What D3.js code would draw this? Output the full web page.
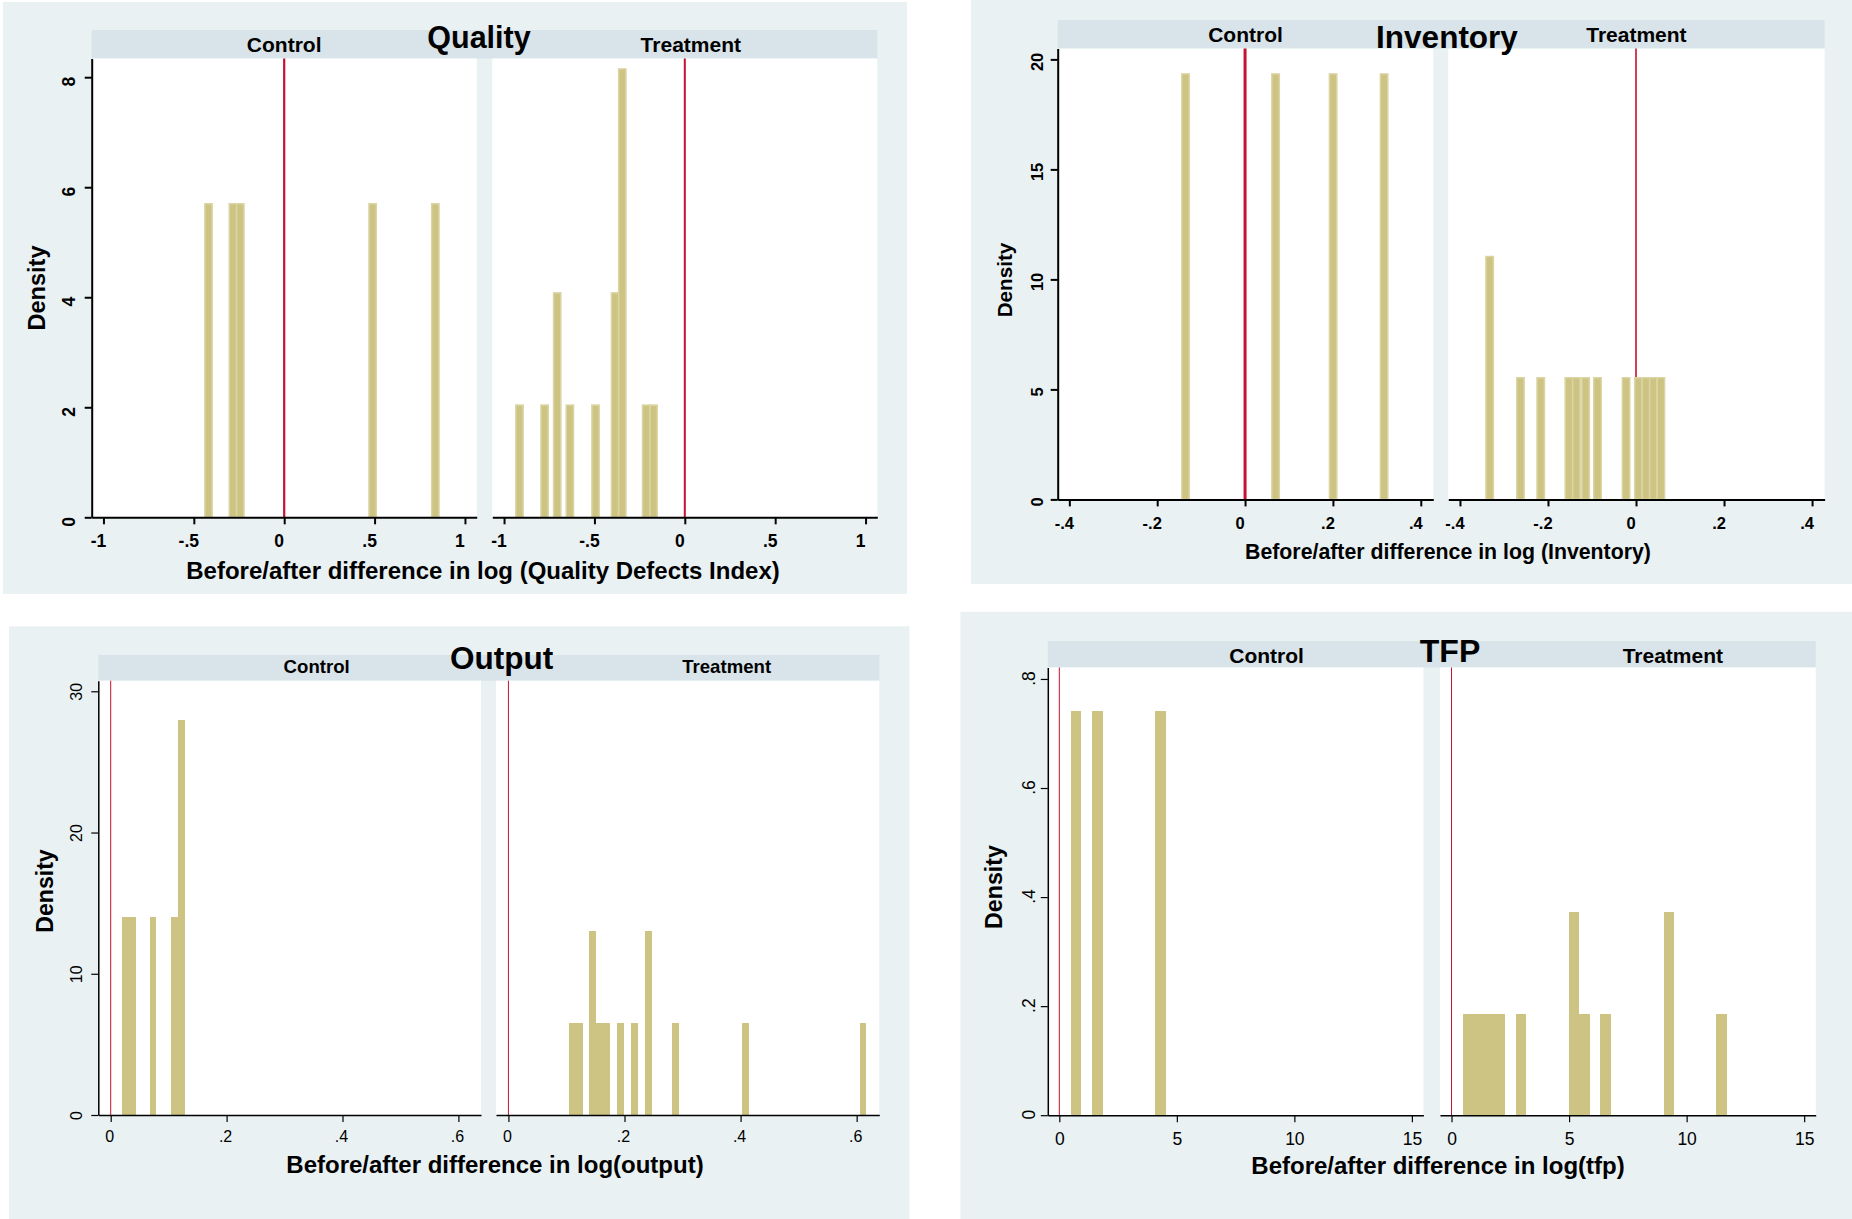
<!DOCTYPE html>
<html>
<head>
<meta charset="utf-8">
<script src="https://cdn.jsdelivr.net/npm/d3@7"></script>
<style>
  html, body { margin: 0; padding: 0; background: #fff; }
  svg { display: block; }
</style>
</head>
<body>
<svg id="chart" width="1852" height="1219"></svg>
<script>
// values (bin left edges + densities per group)

// Quality defects index
const qualityBinWidth = 0.0405;
const qualityControlBins = [-0.439, -0.304, -0.263, 0.469, 0.816];
const qualityControlDensity = [5.7, 5.7, 5.7, 5.7, 5.7];
const qualityTreatBins = [-0.935, -0.796, -0.726, -0.656, -0.514, -0.406, -0.366, -0.234, -0.193];
const qualityTreatDensity = [2.04, 2.04, 4.08, 2.04, 2.04, 4.08, 8.15, 2.04, 2.04];
const qualityXTicks = [-1, -0.5, 0, 0.5, 1];
const qualityXLabels = ["-1", "-.5", "0", ".5", "1"];
const qualityYTicks = [0, 2, 4, 6, 8];
const qualityYLabels = ["0", "2", "4", "6", "8"];

// Inventory
const inventoryBinWidth = 0.017;
const inventoryControlBins = [-0.144, 0.061, 0.192, 0.308];
const inventoryControlDensity = [19.34, 19.34, 19.34, 19.34];
const inventoryTreatBins = [-0.341, -0.271, -0.225, -0.161, -0.144, -0.123, -0.096, -0.031, -0.003, 0.014, 0.031, 0.048];
const inventoryTreatDensity = [11.04, 5.53, 5.53, 5.53, 5.53, 5.53, 5.53, 5.53, 5.53, 5.53, 5.53, 5.53];
const inventoryXTicks = [-0.4, -0.2, 0, 0.2, 0.4];
const inventoryXLabels = ["-.4", "-.2", "0", ".2", ".4"];
const inventoryYTicks = [0, 5, 10, 15, 20];
const inventoryYLabels = ["0", "5", "10", "15", "20"];

// Output
const outputBinWidth = 0.0119;
const outputControlBins = [0.020, 0.0319, 0.067, 0.104, 0.1159];
const outputControlDensity = [14, 14, 14, 14, 28];
const outputTreatBins = [0.1047, 0.1166, 0.139, 0.1509, 0.1628, 0.1875, 0.2117, 0.2359, 0.2824, 0.4027, 0.605];
const outputTreatDensity = [6.5, 6.5, 13, 6.5, 6.5, 6.5, 6.5, 13, 6.5, 6.5, 6.5];
const outputXTicks = [0, 0.2, 0.4, 0.6];
const outputXLabels = ["0", ".2", ".4", ".6"];
const outputYTicks = [0, 10, 20, 30];
const outputYLabels = ["0", "10", "20", "30"];

// TFP
const tfpBinWidth = 0.449;
const tfpControlBins = [0.49, 1.39, 4.08];
const tfpControlDensity = [0.742, 0.742, 0.742];
const tfpTreatBins = [0.49, 0.94, 1.39, 1.84, 2.74, 4.98, 5.43, 6.33, 9.02, 11.27];
const tfpTreatDensity = [0.186, 0.186, 0.186, 0.186, 0.186, 0.372, 0.186, 0.186, 0.372, 0.186];
const tfpXTicks = [0, 5, 10, 15];
const tfpXLabels = ["0", "5", "10", "15"];
const tfpYTicks = [0, 0.2, 0.4, 0.6, 0.8];
const tfpYLabels = ["0", ".2", ".4", ".6", ".8"];

const groups = ["Control", "Treatment"];

const FONT = '"Liberation Sans", Arial, Helvetica, sans-serif';
const BG = "#e9f1f3";
const STRIP = "#d8e4e9";
const BAR = "#cdc382";
const BAR_EDGE = "#dbd5a6";
const RED = "#c4122f";

const svg = d3.select("#chart");

// layout of the four graphs (Stata-style by() histograms)
const panels = [
  {
    title: "Quality", titleX: 479, titleY: 48, titleSize: 30.5,
    xTitle: "Before/after difference in log (Quality Defects Index)", xTitleX: 483, xTitleY: 578.6, xTitleSize: 24,
    yTitleX: 45, yTitleY: 288, yTitleSize: 23.5,
    bg: [3, 2, 907, 594], stripTop: 30, top: 58.5, bottom: 517.3,
    plots: [[91.7, 476.7], [492.3, 877.3]],
    stripY: 51.7, stripSize: 21, stripDx: [0, 6],
    xDomain: [-1.065, 1.065], yDomain: [0, 8.34],
    binWidth: qualityBinWidth,
    bins: [qualityControlBins, qualityTreatBins], dens: [qualityControlDensity, qualityTreatDensity],
    xTicks: qualityXTicks, xLabels: qualityXLabels, yTicks: qualityYTicks, yLabels: qualityYLabels,
    tickSize: 17.5, tickWeight: "bold", xLabelY: 546.7, xLabelDx: -5.5, yLabelX: 75, yLabelDy: 4,
    axisW: 2, tickW: 2, redW: [2.2, 2], edge: true
  },
  {
    title: "Inventory", titleX: 1447, titleY: 48, titleSize: 31.5,
    xTitle: "Before/after difference in log (Inventory)", xTitleX: 1448, xTitleY: 558.7, xTitleSize: 21.3,
    yTitleX: 1011.6, yTitleY: 280, yTitleSize: 20.7,
    bg: [971, 0, 1852, 584], stripTop: 19.9, top: 48.6, bottom: 499.4,
    plots: [[1057.7, 1433.3], [1448.3, 1824.6]],
    stripY: 42.1, stripSize: 21, stripDx: [0, 0],
    xDomain: [-0.4265, 0.4285], yDomain: [0, 20.49],
    binWidth: inventoryBinWidth,
    bins: [inventoryControlBins, inventoryTreatBins], dens: [inventoryControlDensity, inventoryTreatDensity],
    xTicks: inventoryXTicks, xLabels: inventoryXLabels, yTicks: inventoryYTicks, yLabels: inventoryYLabels,
    tickSize: 16.5, tickWeight: "bold", xLabelY: 529.3, xLabelDx: -5.5, yLabelX: 1042.5, yLabelDy: 2,
    axisW: 2, tickW: 2, redW: [3, 1.6], edge: true
  },
  {
    title: "Output", titleX: 501.7, titleY: 669, titleSize: 31.5,
    xTitle: "Before/after difference in log(output)", xTitleX: 495, xTitleY: 1173, xTitleSize: 24,
    yTitleX: 52.7, yTitleY: 891, yTitleSize: 23.1,
    bg: [9, 626.3, 909.5, 1219], stripTop: 655, top: 680.7, bottom: 1115,
    plots: [[98.3, 481], [496, 879.3]],
    stripY: 673, stripSize: 18.6, stripDx: [27, 39],
    xDomain: [-0.0214, 0.639], yDomain: [0, 30.75],
    binWidth: outputBinWidth,
    bins: [outputControlBins, outputTreatBins], dens: [outputControlDensity, outputTreatDensity],
    xTicks: outputXTicks, xLabels: outputXLabels, yTicks: outputYTicks, yLabels: outputYLabels,
    tickSize: 16, tickWeight: "normal", xLabelY: 1141.7, xLabelDx: -1.5, yLabelX: 82, yLabelDy: 0,
    axisW: 1.5, tickW: 1.2, redW: [1, 1], edge: false
  },
  {
    title: "TFP", titleX: 1450, titleY: 662, titleSize: 32,
    xTitle: "Before/after difference in log(tfp)", xTitleX: 1438, xTitleY: 1174.4, xTitleSize: 24,
    yTitleX: 1002, yTitleY: 887, yTitleSize: 23.2,
    bg: [960.4, 611.8, 1852, 1219], stripTop: 641, top: 667.5, bottom: 1115.2,
    plots: [[1047.8, 1423.4], [1440, 1815.7]],
    stripY: 663, stripSize: 21, stripDx: [31, 45],
    xDomain: [-0.49, 15.49], yDomain: [0, 0.821],
    binWidth: tfpBinWidth,
    bins: [tfpControlBins, tfpTreatBins], dens: [tfpControlDensity, tfpTreatDensity],
    xTicks: tfpXTicks, xLabels: tfpXLabels, yTicks: tfpYTicks, yLabels: tfpYLabels,
    tickSize: 17.5, tickWeight: "normal", xLabelY: 1145, xLabelDx: 0, yLabelX: 1035, yLabelDy: -1,
    axisW: 1.5, tickW: 1.2, redW: [1, 1], edge: false
  }
];

function drawPanel(p) {
  const g = svg.append("g");

  g.append("rect")
    .attr("x", p.bg[0]).attr("y", p.bg[1])
    .attr("width", p.bg[2] - p.bg[0]).attr("height", p.bg[3] - p.bg[1])
    .attr("fill", BG);

  // one strip across both groups
  g.append("rect")
    .attr("x", p.plots[0][0]).attr("y", p.stripTop)
    .attr("width", p.plots[1][1] - p.plots[0][0]).attr("height", p.top - p.stripTop)
    .attr("fill", STRIP);

  const y = d3.scaleLinear().domain(p.yDomain).range([p.bottom, p.top]);

  groups.forEach((name, i) => {
    const [x0, x1] = p.plots[i];
    const x = d3.scaleLinear().domain(p.xDomain).range([x0, x1]);

    g.append("rect")
      .attr("x", x0).attr("y", p.top)
      .attr("width", x1 - x0).attr("height", p.bottom - p.top)
      .attr("fill", "#fff");

    // xline(0)
    g.append("line")
      .attr("x1", x(0)).attr("x2", x(0))
      .attr("y1", p.top).attr("y2", p.bottom)
      .attr("stroke", RED).attr("stroke-width", p.redW[i]);

    const bars = p.bins[i].map((b, k) => ({ left: b, dens: p.dens[i][k] }));
    g.append("g")
      .attr("shape-rendering", p.edge ? null : "crispEdges")
      .selectAll("rect")
      .data(bars)
      .join("rect")
      .attr("x", d => x(d.left))
      .attr("width", d => x(d.left + p.binWidth) - x(d.left))
      .attr("y", d => y(d.dens))
      .attr("height", d => y(0) - y(d.dens))
      .attr("fill", BAR)
      .attr("stroke", p.edge ? BAR_EDGE : "none")
      .attr("stroke-width", p.edge ? 1.5 : 0);

    // x axis
    const xa = g.append("g")
      .attr("transform", `translate(0,${p.bottom})`)
      .call(d3.axisBottom(x)
        .tickValues(p.xTicks)
        .tickFormat((d, k) => p.xLabels[k])
        .tickSize(7)
        .tickSizeOuter(0));
    xa.attr("font-family", FONT).attr("font-size", p.tickSize).attr("font-weight", p.tickWeight);
    xa.select(".domain").attr("stroke", "#000").attr("stroke-width", p.axisW);
    xa.selectAll(".tick line").attr("stroke", "#000").attr("stroke-width", p.tickW);
    xa.selectAll(".tick text")
      .attr("y", p.xLabelY - p.bottom).attr("dy", null).attr("dx", p.xLabelDx)
      .attr("fill", "#000");

    // y axis only on the left graph
    if (i === 0) {
      const ya = g.append("g")
        .attr("transform", `translate(${x0},0)`)
        .call(d3.axisLeft(y)
          .tickValues(p.yTicks)
          .tickFormat((d, k) => p.yLabels[k])
          .tickSize(7)
          .tickSizeOuter(0));
      ya.attr("font-family", FONT).attr("font-size", p.tickSize).attr("font-weight", p.tickWeight);
      ya.select(".domain").attr("stroke", "#000").attr("stroke-width", p.axisW);
      ya.selectAll(".tick line").attr("stroke", "#000").attr("stroke-width", p.tickW);
      ya.selectAll(".tick text")
        .attr("x", 0).attr("y", 0).attr("dy", null)
        .attr("text-anchor", "middle")
        .attr("transform", `translate(${p.yLabelX - x0},${p.yLabelDy}) rotate(-90)`)
        .attr("fill", "#000");
    }

    // strip label
    g.append("text")
      .attr("x", (x0 + x1) / 2 + p.stripDx[i]).attr("y", p.stripY)
      .attr("text-anchor", "middle")
      .attr("font-family", FONT).attr("font-weight", "bold").attr("font-size", p.stripSize)
      .text(name);
  });

  g.append("text")
    .attr("x", p.xTitleX).attr("y", p.xTitleY)
    .attr("text-anchor", "middle")
    .attr("font-family", FONT).attr("font-weight", "bold").attr("font-size", p.xTitleSize)
    .text(p.xTitle);

  g.append("text")
    .attr("transform", `translate(${p.yTitleX},${p.yTitleY}) rotate(-90)`)
    .attr("text-anchor", "middle")
    .attr("font-family", FONT).attr("font-weight", "bold").attr("font-size", p.yTitleSize)
    .text("Density");

  g.append("text")
    .attr("x", p.titleX).attr("y", p.titleY)
    .attr("text-anchor", "middle")
    .attr("font-family", FONT).attr("font-weight", "bold").attr("font-size", p.titleSize)
    .text(p.title);
}

panels.forEach(drawPanel);
</script>
</body>
</html>
